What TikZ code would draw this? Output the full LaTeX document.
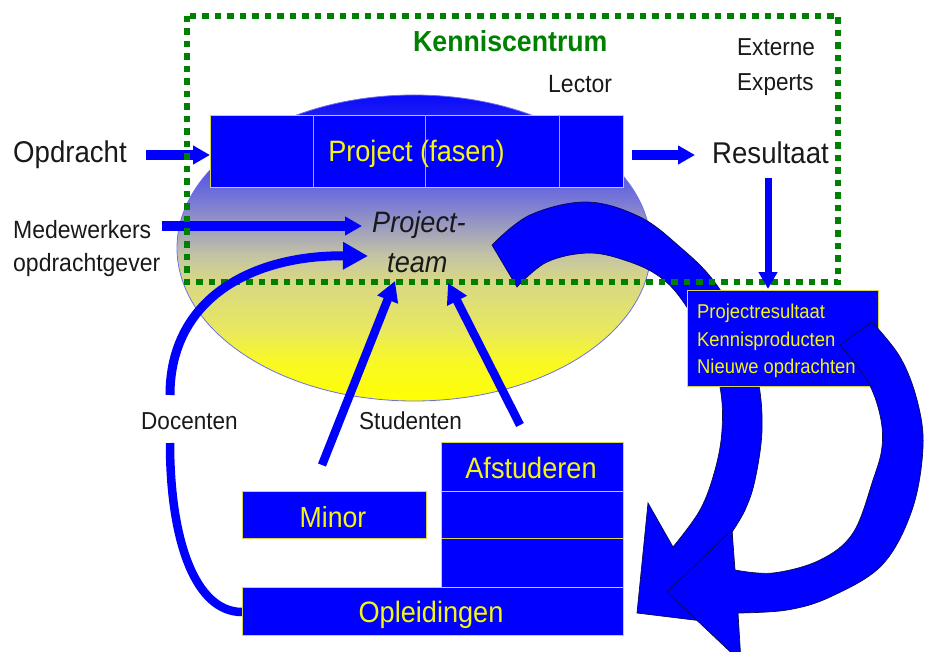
\documentclass[tikz,border=0pt]{standalone}
\usepackage{fontspec}
\setmainfont[FakeStretch=0.92]{Liberation Sans}
\usetikzlibrary{arrows.meta}
\definecolor{pblue}{RGB}{0,0,255}
\definecolor{pyel}{RGB}{245,245,20}
\definecolor{pedge}{RGB}{215,215,80}
\definecolor{pdiv}{RGB}{175,175,110}
\definecolor{kgreen}{RGB}{0,128,0}
\definecolor{tblack}{RGB}{25,25,25}
\definecolor{outl}{RGB}{10,10,80}
\definecolor{eedge}{RGB}{110,110,235}
\definecolor{ey0}{RGB}{255,255,0}
\definecolor{ey1}{RGB}{248,248,40}
\definecolor{ey2}{RGB}{232,232,95}
\definecolor{ey3}{RGB}{215,215,135}
\definecolor{ey4}{RGB}{195,195,165}
\definecolor{ey5}{RGB}{120,120,215}
\definecolor{ey6}{RGB}{60,60,235}
\definecolor{ey7}{RGB}{10,10,250}
\pgfdeclareverticalshading{ellsh}{100bp}{color(0bp)=(ey0); color(25bp)=(ey0); color(31.7bp)=(ey1); color(36.6bp)=(ey2); color(44.8bp)=(ey3); color(48.9bp)=(ey4); color(57.8bp)=(ey5); color(66bp)=(ey6); color(75bp)=(ey7); color(100bp)=(ey7)}
\newcommand\pfs[1]{\fontsize{#1}{#1}\selectfont}
\begin{document}
\begin{tikzpicture}[x=1pt,y=-1pt,
  lbl/.style={inner sep=0pt, text=tblack, anchor=base west},
  ylbl/.style={inner sep=0pt, text=pyel, anchor=base},
  box/.style={draw=pedge, line width=0.8pt, fill=pblue, inner sep=0pt, anchor=north west},
  divl/.style={draw=pdiv, line width=0.8pt},
  harrow/.style={draw=pblue, line width=10pt, -{Triangle[length=17pt,width=18pt]}},
  varrow/.style={draw=pblue, line width=7pt, -{Triangle[length=17pt,width=18pt]}},
  sarrow/.style={draw=pblue, line width=8.5pt, -{Triangle[length=20pt,width=21pt]}},
  carrow/.style={draw=pblue, line width=9pt, -{Triangle[length=25pt,width=26pt]}},
  cline/.style={draw=pblue, line width=8.5pt},
  bigarrow/.style={fill=pblue, draw=outl, line width=0.7pt, line join=miter},
  dotrect/.style={draw=kgreen, line width=6pt, dash pattern=on 6.5pt off 6pt}
]
\useasboundingbox (0,0) rectangle (925,652);

% ellipse with gradient
\shade[shading=ellsh, draw=eedge, line width=0.8pt]
  (414,248) ellipse [x radius=237, y radius=153];

% project box
\node[box, minimum width=413pt, minimum height=72pt] (proj) at (210,115) {};
\draw[divl] (313,115) -- (313,187);
\draw[divl] (425,115) -- (425,187);
\draw[divl] (559,115) -- (559,187);

% big curved arrow 1
\filldraw[bigarrow] plot[smooth, tension=0.6] coordinates {(492,245) (530,215) (587,202) (640,217) (680,247) (713,280) (742,328) (758,380) (762,430) (755,480) (745,510) (732,532)}
  -- (735,625) -- (637,613) -- (648,503)
  -- plot[smooth, tension=0.6] coordinates {(673,547) (700,510) (715,470) (722,430) (720,387) (705,340) (682,300) (660,277) (630,262) (590,253) (547,262) (517,287)} -- cycle;

% left arrows
\coordinate (opdA) at (146,155);
\coordinate (opdB) at (210,155);
\draw[harrow] (opdA) -- (opdB);
\coordinate (medA) at (162,226);
\coordinate (medB) at (362,226);
\draw[harrow] (medA) -- (medB);

% Kenniscentrum dotted frame
\draw[dotrect] (187,16) rectangle (838,282);

% result box
\node[box, minimum width=191pt, minimum height=96pt] (res) at (687,290) {};
\node[lbl, text=pyel, font=\pfs{20}] (r1) at (697,318) {Projectresultaat};
\node[lbl, text=pyel, font=\pfs{20}] (r2) at (697,346) {Kennisproducten};
\node[lbl, text=pyel, font=\pfs{20}] (r3) at (697,373) {Nieuwe opdrachten};

% big curved arrow 2
\filldraw[bigarrow] plot[smooth, tension=0.6] coordinates {(872,322) (900,357) (917,400) (923,447) (912,510) (882,565) (830,597) (787,610) (738,613)}
  -- (741,662) -- (667,592) -- (732,530)
  -- plot[smooth, tension=0.6] coordinates {(735,570) (773,573) (820,560) (853,533) (873,480) (882,447) (880,415) (867,380) (840,345)} -- cycle;

% Resultaat arrows
\coordinate (resA) at (632,155);
\coordinate (resB) at (695,155);
\draw[harrow] (resA) -- (resB);
\coordinate (downA) at (768,178);
\coordinate (downB) at (768,289);
\draw[varrow] (downA) -- (downB);

% Docenten curves
\coordinate (docA) at (170,395);
\coordinate (docB) at (368,256);
\draw[carrow] (docA) .. controls (170,300) and (250,255) .. (docB);
\coordinate (docC) at (170,443);
\coordinate (docD) at (242,612);
\draw[cline] (docC) .. controls (170,540) and (195,612) .. (docD);

% Studenten arrows
\coordinate (stA) at (322,465);
\coordinate (stB) at (395,281);
\draw[sarrow] (stA) -- (stB);
\coordinate (stC) at (520,425);
\coordinate (stD) at (448,283);
\draw[sarrow] (stC) -- (stD);

% lower boxes
\node[box, minimum width=184pt, minimum height=47pt] (minor) at (242,491) {};
\node[box, minimum width=182pt, minimum height=49pt] (afst) at (441,442) {};
\node[box, minimum width=182pt, minimum height=47pt] (row2) at (441,491) {};
\node[box, minimum width=182pt, minimum height=49pt] (row3) at (441,538) {};
\node[box, minimum width=381pt, minimum height=48pt] (opl) at (242,587) {};

% texts
\node[lbl, font=\pfs{30}] (opdracht) at (13,163) {Opdracht};
\node[lbl, font=\pfs{25}] (medew) at (13,238) {Medewerkers};
\node[lbl, font=\pfs{25}] (opdrg) at (13,271) {opdrachtgever};
\node[lbl, font=\pfs{29}\bfseries, text=kgreen] (kc) at (413,52) {Kenniscentrum};
\node[lbl, font=\pfs{24.5}] (ext1) at (737,56) {Externe};
\node[lbl, font=\pfs{24.5}] (ext2) at (737,91) {Experts};
\node[lbl, font=\pfs{25}] (lector) at (548,93) {Lector};
\node[lbl, font=\pfs{30}] (result) at (712,164) {Resultaat};
\node[lbl, font=\pfs{29.5}\itshape] (pt1) at (372,233) {Project-};
\node[lbl, font=\pfs{29.5}\itshape] (pt2) at (387,272) {team};
\node[lbl, font=\pfs{24.5}] (doc) at (141,429) {Docenten};
\node[lbl, font=\pfs{24.5}] (stud) at (359,429) {Studenten};
\node[ylbl, font=\pfs{29.5}] (projtxt) at (416.5,162) {Project (fasen)};
\node[ylbl, font=\pfs{29}] (minortxt) at (333,527) {Minor};
\node[ylbl, font=\pfs{29.5}] (afsttxt) at (531,478) {Afstuderen};
\node[ylbl, font=\pfs{29.5}] (opltxt) at (431,622) {Opleidingen};
\end{tikzpicture}
\end{document}
